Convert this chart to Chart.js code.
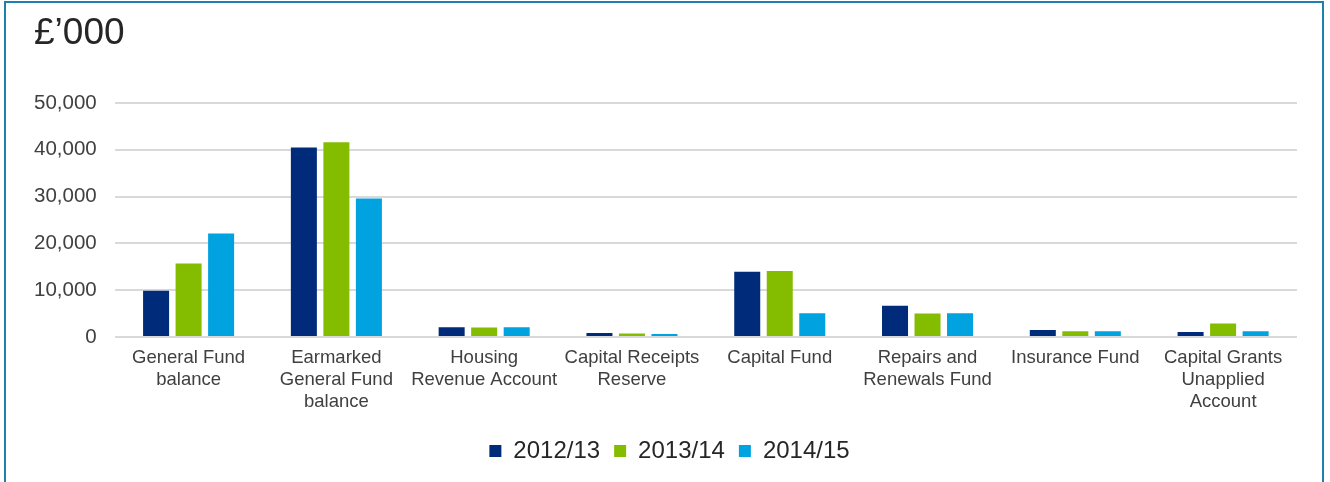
<!DOCTYPE html>
<html>
<head>
<meta charset="utf-8">
<script src="https://cdn.jsdelivr.net/npm/chart.js@4/dist/chart.umd.min.js"></script>
<style>
  html, body { margin: 0; padding: 0; background: #fff; }
  #wrap { position: relative; width: 1330px; height: 482px; overflow: hidden; }
  #frame { position: absolute; left: 4px; top: 1px; width: 1320px; height: 490px; border: 2px solid #1f7fae; box-sizing: border-box; }
  #title { position: absolute; left: 34px; top: 11px; font-family: "Liberation Sans", Arial, sans-serif; font-size: 37px; color: #262626; }
  #c { position: absolute; left: 0; top: 0; }
</style>
</head>
<body>
<div id="wrap">
  <div id="frame"></div>
  <canvas id="c" width="1330" height="482"></canvas>
  <div id="title">£’000</div>
</div>
<script>
const categories = [
  ["General Fund", "balance"],
  ["Earmarked", "General Fund", "balance"],
  ["Housing", "Revenue Account"],
  ["Capital Receipts", "Reserve"],
  ["Capital Fund"],
  ["Repairs and", "Renewals Fund"],
  ["Insurance Fund"],
  ["Capital Grants", "Unapplied", "Account"]
];
const seriesNames = ["2012/13", "2013/14", "2014/15"];
const values2012 = [9900, 40500, 2100, 850, 13950, 6650, 1500, 1070];
const values2013 = [15700, 41600, 2000, 750, 14100, 5000, 1220, 2860];
const values2014 = [22100, 29600, 2050, 650, 5080, 5080, 1220, 1220];
const yTicks = [0, 10000, 20000, 30000, 40000, 50000];
const colors = ["#002a7a", "#84bd00", "#00a2e0"];

const font = "'Liberation Sans', Arial, sans-serif";

const legendShift = {
  id: 'legendShift',
  afterLayout(chart) {
    if (chart.legend) { chart.legend.left += 13; chart.legend.right += 13; }
  }
};

new Chart(document.getElementById('c'), {
  type: 'bar',
  data: {
    labels: categories,
    datasets: [values2012, values2013, values2014].map((v, i) => ({
      label: seriesNames[i],
      data: v,
      backgroundColor: colors[i],
      categoryPercentage: 0.66,
      barPercentage: 0.8
    }))
  },
  plugins: [legendShift],
  options: {
    responsive: false,
    animation: false,
    devicePixelRatio: 1,
    layout: { padding: { left: 16, right: 33, top: 103, bottom: 9 } },
    plugins: {
      legend: {
        position: 'bottom',
        labels: {
          boxWidth: 12, boxHeight: 12, padding: 14,
          color: '#262626',
          font: { family: font, size: 24 }
        }
      },
      tooltip: { enabled: false }
    },
    scales: {
      x: {
        grid: { display: false },
        border: { display: false },
        afterFit: (scale) => { scale.height += 10; },
        ticks: {
          color: '#404040',
          font: { family: font, size: 18.5, lineHeight: 1.19 },
          maxRotation: 0, autoSkip: false, padding: 2
        }
      },
      y: {
        min: 0, max: 50000,
        afterBuildTicks: (axis) => { axis.ticks = yTicks.map(v => ({ value: v })); },
        grid: { color: '#d9d9d9', lineWidth: 2, drawTicks: false },
        border: { display: false },
        ticks: {
          color: '#404040',
          font: { family: font, size: 20.5 },
          padding: 18,
          callback: (v) => v.toLocaleString('en-GB')
        }
      }
    }
  }
});
</script>
</body>
</html>
